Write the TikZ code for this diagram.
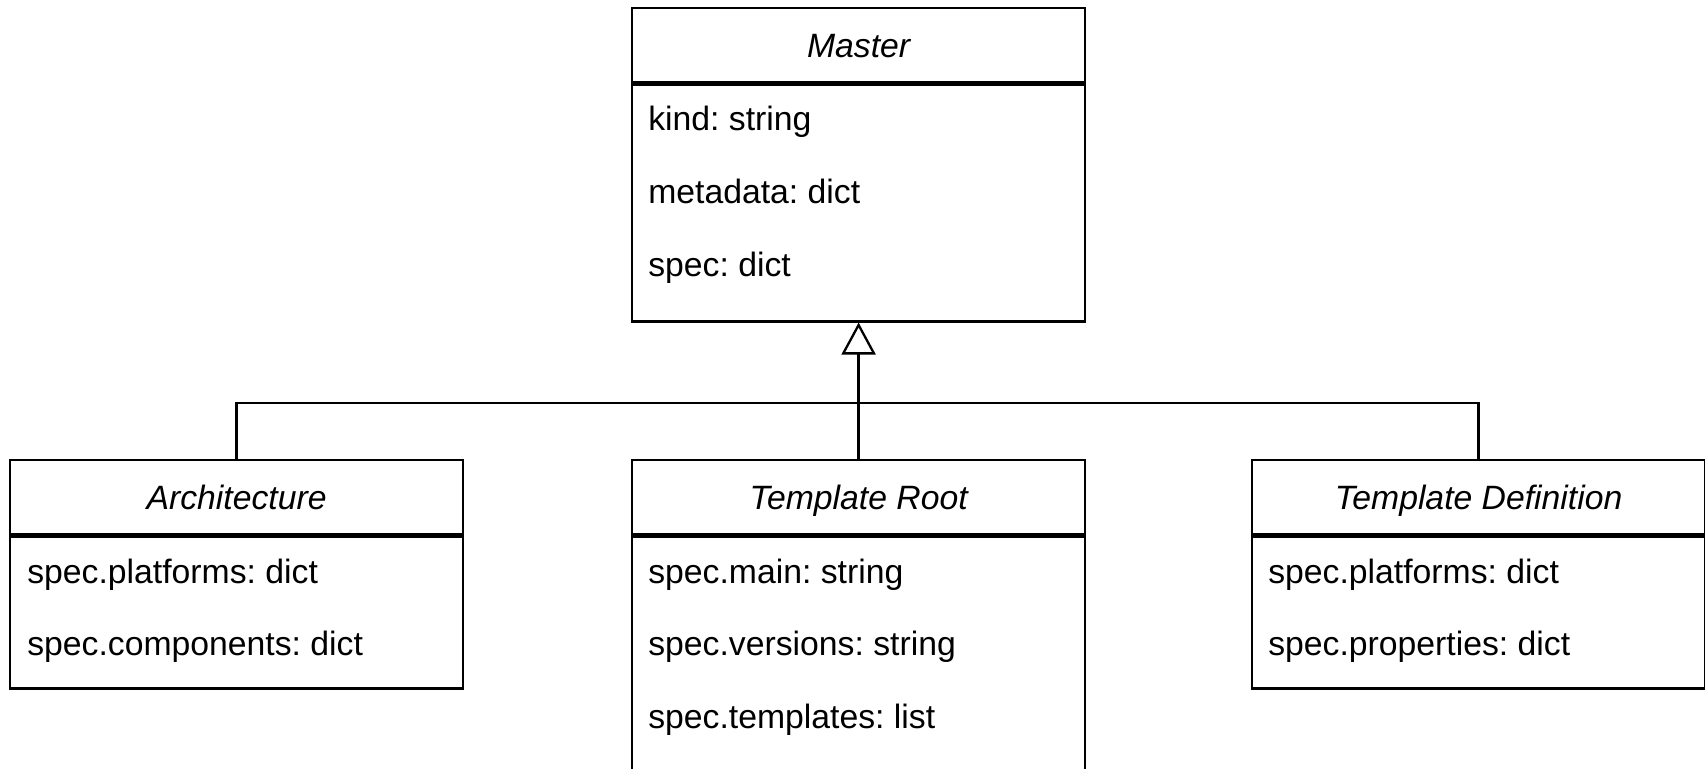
\documentclass[tikz,border=0pt]{standalone}
\usepackage{fontspec}
\setmainfont{Liberation Sans}
\usetikzlibrary{arrows.meta}
\frenchspacing

\begin{document}
\begin{tikzpicture}[x=0.02cm, y=-0.02cm,
  every node/.style={font=\fontsize{19.2}{23}\selectfont},
  classhead/.style={draw, line width=0.046cm, anchor=north west, minimum width=9.06cm, minimum height=1.48cm, inner sep=0pt, text height=13.7pt, text depth=0pt, font=\fontsize{19.2}{23}\selectfont\itshape},
  classbody/.style={draw, line width=0.046cm, anchor=north, minimum width=9.06cm, inner sep=0pt},
  attr/.style={anchor=base west, inner sep=0pt},
  link/.style={line width=0.046cm}]

\clip (0,0) rectangle (1705,768);

\node[classhead] (master) at (631,7) {Master};
\node[classbody, minimum height=4.74cm] (master-body) at (master.south) {};
\node[attr] (master-kind) at (648,130) {kind: string};
\node[attr] (master-meta) at (648,203) {metadata: dict};
\node[attr] (master-spec) at (648,276) {spec: dict};

\node[classhead] (arch) at (9,459) {Architecture};
\node[classbody, minimum height=3.04cm] (arch-body) at (arch.south) {};
\node[attr] (arch-platforms) at (27,583) {spec.platforms: dict};
\node[attr] (arch-components) at (27,655) {spec.components: dict};

\node[classhead] (root) at (631,459) {Template Root};
\node[classbody, minimum height=6cm] (root-body) at (root.south) {};
\node[attr] (root-main) at (648,583) {spec.main: string};
\node[attr] (root-versions) at (648,655) {spec.versions: string};
\node[attr] (root-templates) at (648,728) {spec.templates: list};

\node[classhead] (def) at (1251,459) {Template Definition};
\node[classbody, minimum height=3.04cm] (def-body) at (def.south) {};
\node[attr] (def-platforms) at (1268,583) {spec.platforms: dict};
\node[attr] (def-properties) at (1268,655) {spec.properties: dict};

\coordinate (bus) at (857.5,403);
\draw[link] (arch.north) |- (bus) -| (def.north);
\draw[link, -{Triangle[open, length=0.64cm, width=0.68cm]}] (root.north) -- (master-body.south);

\end{tikzpicture}
\end{document}
